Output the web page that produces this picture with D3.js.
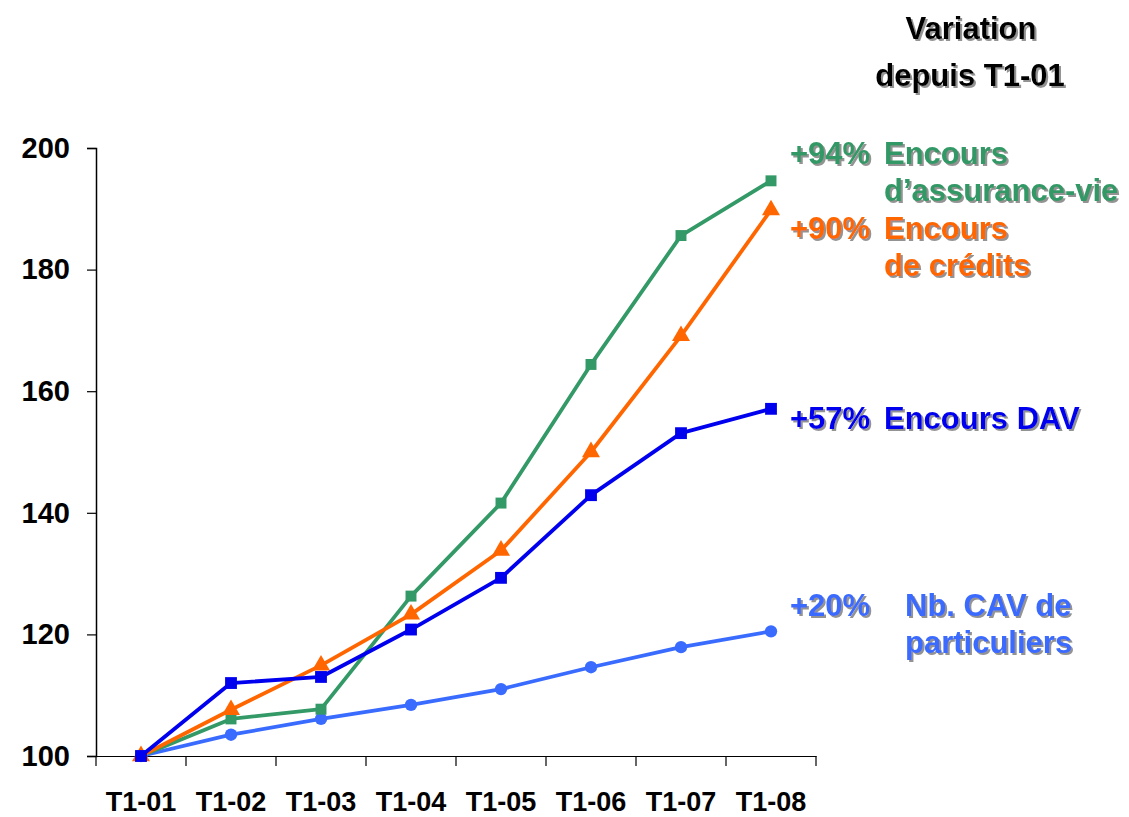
<!DOCTYPE html>
<html>
<head>
<meta charset="utf-8">
<script src="https://cdn.jsdelivr.net/npm/d3@7"></script>
<style>
  body { margin: 0; background: #fff; }
  svg { display: block; font-family: "Liberation Sans", Arial, sans-serif; font-weight: bold; }
</style>
</head>
<body>
<div id="chart"></div>
<script>
// trimestres
const categories = ["T1-01", "T1-02", "T1-03", "T1-04", "T1-05", "T1-06", "T1-07", "T1-08"];
const yTicks = [100, 120, 140, 160, 180, 200];

// séries (base 100 au T1-01)
const assuranceVie = [100, 106.1, 107.7, 126.3, 141.6, 164.4, 185.6, 194.6];
const credits = [100, 107.6, 114.9, 123.3, 133.8, 150, 169.1, 189.8];
const dav = [100, 112, 113, 120.8, 129.3, 142.9, 153.1, 157.1];
const nbCav = [100, 103.5, 106.1, 108.4, 111, 114.6, 117.9, 120.5];

const width = 1129, height = 817;

const svg = d3.select("#chart").append("svg")
  .attr("width", width)
  .attr("height", height);

// ombre portée des textes
const defs = svg.append("defs");
defs.append("filter").attr("id", "ombre")
  .attr("x", "-10%").attr("y", "-20%").attr("width", "130%").attr("height", "150%")
  .append("feDropShadow")
  .attr("dx", 2).attr("dy", 2).attr("stdDeviation", 0.7)
  .attr("flood-color", "#808080").attr("flood-opacity", 0.85);

const x = d3.scaleBand().domain(categories).range([96, 816]).padding(0);
const y = d3.scaleLinear().domain([100, 200]).range([756, 148]);
const cx = (d, i) => x(categories[i]) + x.bandwidth() / 2;

// axe Y
const yAxis = svg.append("g")
  .attr("transform", "translate(96,0)")
  .call(d3.axisLeft(y).tickValues(yTicks).tickSize(9).tickPadding(17).tickFormat(d3.format("d")));
yAxis.select(".domain").attr("stroke", "#000").attr("stroke-width", 1.5);
yAxis.selectAll(".tick line").attr("stroke", "#000").attr("stroke-width", 1.2);
yAxis.selectAll("text")
  .attr("fill", "#000")
  .style("font-size", "29px")
  .style("font-weight", "bold")
  .style("font-family", "'Liberation Sans', Arial, sans-serif");

// axe X : libellés au centre des bandes
const xAxis = svg.append("g")
  .attr("transform", "translate(0,756)")
  .call(d3.axisBottom(x).tickSize(0).tickPadding(36));
xAxis.select(".domain").attr("stroke", "#000").attr("stroke-width", 1.2);
xAxis.selectAll("text")
  .attr("fill", "#000")
  .style("font-size", "27px")
  .style("font-weight", "bold")
  .style("font-family", "'Liberation Sans', Arial, sans-serif");

// graduations X aux limites des bandes
const bornes = categories.map(c => x(c)).concat([x.range()[1]]);
svg.append("g").selectAll("line")
  .data(bornes)
  .join("line")
  .attr("x1", d => d).attr("x2", d => d)
  .attr("y1", 756).attr("y2", 766)
  .attr("stroke", "#000").attr("stroke-width", 1.2);

const line = d3.line().x(cx).y(d => y(d));

function serie(data, color, marker) {
  const g = svg.append("g");
  g.append("path")
    .attr("d", line(data))
    .attr("fill", "none")
    .attr("stroke", color)
    .attr("stroke-width", 3.8)
    .attr("stroke-linejoin", "round");
  const sym = d3.symbol().type(marker.type).size(marker.size);
  g.selectAll("path.m")
    .data(data)
    .join("path")
    .attr("class", "m")
    .attr("d", sym)
    .attr("transform", (d, i) => `translate(${cx(d, i)},${y(d)})`)
    .attr("fill", color);
}

serie(nbCav, "#3a6bff", { type: d3.symbolCircle, size: 120 });
serie(assuranceVie, "#339966", { type: d3.symbolSquare, size: 120 });
serie(credits, "#ff6600", { type: d3.symbolTriangle, size: 140 });
serie(dav, "#0000ee", { type: d3.symbolSquare, size: 140 });

// titre à droite
const titre = svg.append("g").attr("filter", "url(#ombre)")
  .style("font-size", "31px").attr("text-anchor", "middle").attr("fill", "#000");
titre.append("text").attr("x", 971).attr("y", 39).text("Variation");
titre.append("text").attr("x", 970).attr("y", 86).text("depuis T1-01");

// étiquettes des séries
const labels = [
  { pct: "+94%", lines: ["Encours", "d\u2019assurance-vie"], color: "#339966", y: 164, x: 884 },
  { pct: "+90%", lines: ["Encours", "de crédits"], color: "#ff6600", y: 239, x: 884 },
  { pct: "+57%", lines: ["Encours DAV"], color: "#0000ee", y: 429, x: 884 },
  { pct: "+20%", lines: ["Nb. CAV de", "particuliers"], color: "#3a6bff", y: 616, x: 905 }
];
const lg = svg.append("g").attr("filter", "url(#ombre)").style("font-size", "31px");
labels.forEach(l => {
  lg.append("text").attr("x", 790).attr("y", l.y).attr("fill", l.color).text(l.pct);
  l.lines.forEach((t, j) => {
    lg.append("text").attr("x", l.x).attr("y", l.y + j * 37).attr("fill", l.color).text(t);
  });
});
</script>
</body>
</html>
